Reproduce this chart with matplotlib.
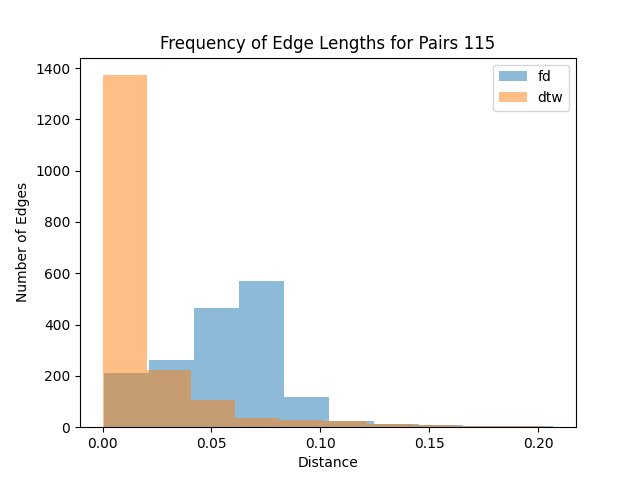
import numpy as np
import matplotlib
matplotlib.use("Agg")
import matplotlib.pyplot as plt

fd_range = [0.0005, 0.207]
fd_counts = [210, 260, 463, 568, 116, 26, 14, 10, 3, 4]
dtw_range = [0.0, 0.2027]
dtw_counts = [1372, 223, 105, 35, 30, 23, 12, 9, 4, 3]

fig, ax = plt.subplots(figsize=(6.4, 4.8), dpi=100)

def draw(rng, counts, label):
    edges = np.linspace(rng[0], rng[1], len(counts) + 1)
    centers = (edges[:-1] + edges[1:]) / 2
    ax.hist(centers, bins=edges, weights=counts, alpha=0.5, label=label)

draw(fd_range, fd_counts, "fd")
draw(dtw_range, dtw_counts, "dtw")

ax.set_title("Frequency of Edge Lengths for Pairs 115")
ax.set_xlabel("Distance")
ax.set_ylabel("Number of Edges")
ax.legend(loc="upper right")
fig.savefig("out.png")
